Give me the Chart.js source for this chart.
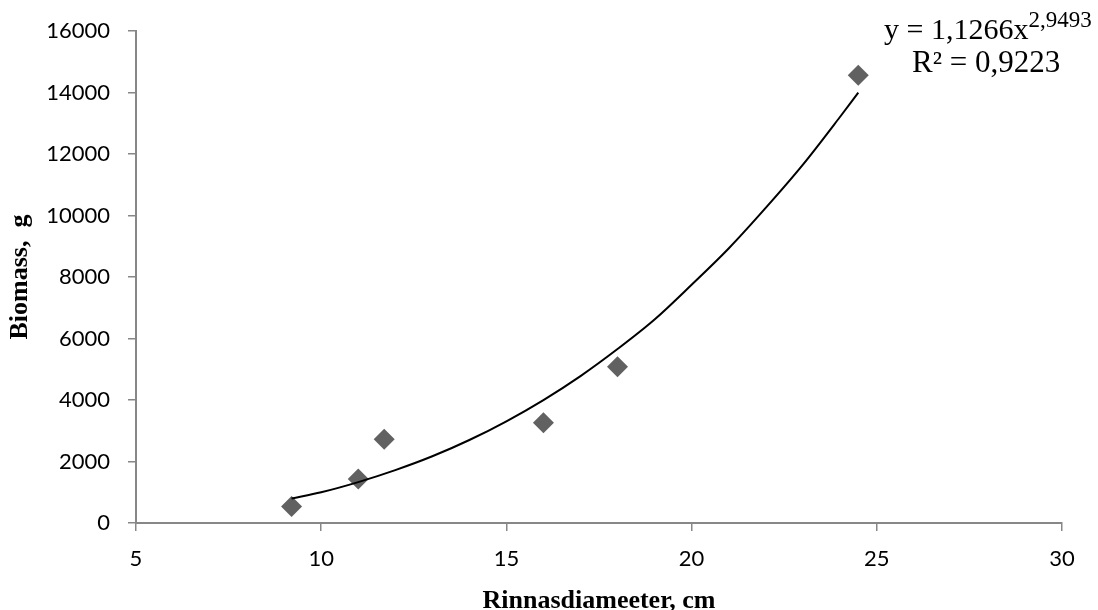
<!DOCTYPE html>
<html>
<head>
  <title>Biomass vs Rinnasdiameeter</title>
  <style>
    body { margin: 0; background: #fff; }
    canvas { display: block; }
  </style>
</head>
<body>
  <canvas id="chart" width="1098" height="610"></canvas>

  <script src="https://cdn.jsdelivr.net/npm/chart.js@4"></script>
  <script>

    // measured points
    const diameterCm = [9.2, 11.0, 11.7, 16.0, 18.0, 24.5];
    const biomassG = [540, 1430, 2725, 3260, 5080, 14570];

    // trendline
    const trendX = [9.2, 10, 11, 12, 13, 14, 15, 16, 17, 18, 19, 20, 21, 22, 23, 24, 24.5];
    const trendY = [800, 1000, 1330, 1720, 2170, 2700, 3310, 4000, 4780, 5660, 6620, 7750, 8930, 10250, 11650, 13200, 14000];

    const equationText = 'y = 1,1266x';
    const equationPower = '2,9493';
    const rSquaredText = 'R² = 0,9223';

    const axisColor = '#878787';
    const serif = "'Liberation Serif', 'Times New Roman', serif";

    const toPoints = (xs, ys) => xs.map((x, i) => ({x: x, y: ys[i]}));

    const equationLabel = {
        id: 'equationLabel',
        afterDraw(chart){
            const ctx = chart.ctx;
            ctx.save();
            ctx.fillStyle = '#000';
            ctx.textBaseline = 'alphabetic';
            ctx.font = '30px ' + serif;
            ctx.fillText(equationText, 884, 39);
            let w = ctx.measureText(equationText).width;
            ctx.font = '23px ' + serif;
            ctx.fillText(equationPower, 884 + w, 27);
            ctx.font = '31px ' + serif;
            ctx.fillText(rSquaredText, 912, 72);
            ctx.restore();
        }
    };

    const tickFont = {family: 'Lato', size: 22};

    new Chart(document.getElementById('chart'), {
        type: 'scatter',
        data: {
            datasets: [
                {
                    label: 'trend',
                    type: 'line',
                    data: toPoints(trendX, trendY),
                    borderColor: '#000',
                    borderWidth: 2,
                    pointRadius: 0,
                    cubicInterpolationMode: 'monotone',
                    fill: false,
                    order: 0,
                },
                {
                    label: 'Biomass',
                    data: toPoints(diameterCm, biomassG),
                    pointStyle: 'rectRot',
                    pointRadius: 10.5,
                    backgroundColor: '#616161',
                    borderColor: '#616161',
                    borderWidth: 0,
                    order: 1,
                },
            ]
        },
        options: {
            responsive: false,
            animation: false,
            layout: {padding: {left: 0, right: 36, top: 30, bottom: 0}},
            plugins: {legend: {display: false}, tooltip: {enabled: false}},
            scales: {
                x: {
                    type: 'linear',
                    min: 5, max: 30,
                    ticks: {stepSize: 5, font: tickFont, color: '#000', padding: 15},
                    grid: {drawOnChartArea: false, tickLength: 8, color: axisColor, lineWidth: 1.5},
                    border: {color: axisColor, width: 2},
                    title: {
                        display: true,
                        text: 'Rinnasdiameeter, cm',
                        color: '#000',
                        font: {family: serif, size: 26, weight: 'bold', lineHeight: 0.7},
                        padding: 0,
                    },
                    afterFit: s => { s.height = 87; },
                },
                y: {
                    min: 0, max: 16000,
                    ticks: {stepSize: 2000, font: tickFont, color: '#000', padding: 18,
                        callback: v => String(v)},
                    grid: {drawOnChartArea: false, tickLength: 8, color: axisColor, lineWidth: 1.5},
                    border: {color: axisColor, width: 2},
                    title: {
                        display: true,
                        text: 'Biomass,  g',
                        color: '#000',
                        font: {family: serif, size: 26, weight: 'bold', lineHeight: 1.2},
                        padding: {top: 5, bottom: 0},
                    },
                    afterFit: s => { s.width = 136; },
                },
            }
        },
        plugins: [equationLabel]
    });

  </script>
</body>
</html>
